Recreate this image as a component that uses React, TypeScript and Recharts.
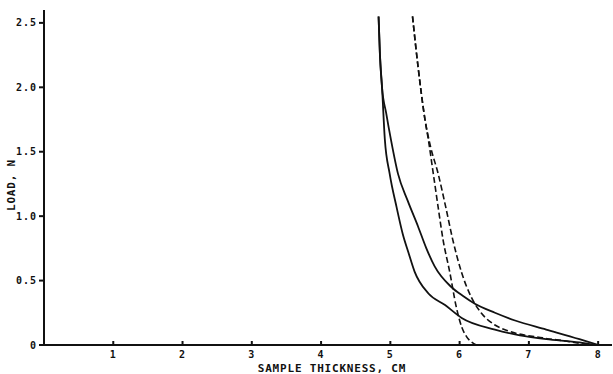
import React from 'react';
import { LineChart, Line, XAxis, YAxis } from 'recharts';

const xTicks = [1, 2, 3, 4, 5, 6, 7, 8];
const yTicks = [0, 0.5, 1.0, 1.5, 2.0, 2.5];

// solid curves
const solidInner = [
  { x: 4.83, y: 2.55 }, { x: 4.85, y: 2.25 }, { x: 4.88, y: 2.0 }, { x: 4.92, y: 1.6 },
  { x: 4.99, y: 1.33 }, { x: 5.09, y: 1.07 }, { x: 5.18, y: 0.86 }, { x: 5.26, y: 0.72 },
  { x: 5.35, y: 0.57 }, { x: 5.55, y: 0.4 }, { x: 5.79, y: 0.31 }, { x: 6.03, y: 0.21 },
  { x: 6.51, y: 0.12 }, { x: 6.87, y: 0.075 }, { x: 7.25, y: 0.045 }, { x: 7.73, y: 0.02 }, { x: 7.95, y: 0 },
];
const solidOuter = [
  { x: 4.83, y: 2.55 }, { x: 4.85, y: 2.25 }, { x: 4.88, y: 2.0 }, { x: 4.94, y: 1.8 },
  { x: 5.01, y: 1.59 }, { x: 5.11, y: 1.33 }, { x: 5.25, y: 1.12 }, { x: 5.4, y: 0.92 },
  { x: 5.52, y: 0.75 }, { x: 5.64, y: 0.61 }, { x: 5.88, y: 0.45 }, { x: 6.05, y: 0.38 },
  { x: 6.22, y: 0.32 }, { x: 6.51, y: 0.25 }, { x: 6.8, y: 0.19 }, { x: 7.25, y: 0.12 },
  { x: 7.73, y: 0.045 }, { x: 8.0, y: 0 },
];
// dashed curves
const dashedInner = [
  { x: 5.32, y: 2.55 }, { x: 5.4, y: 2.16 }, { x: 5.5, y: 1.75 }, { x: 5.55, y: 1.59 },
  { x: 5.62, y: 1.33 }, { x: 5.69, y: 1.07 }, { x: 5.76, y: 0.82 }, { x: 5.86, y: 0.56 },
  { x: 5.95, y: 0.3 }, { x: 6.03, y: 0.14 }, { x: 6.1, y: 0.065 }, { x: 6.18, y: 0.02 }, { x: 6.24, y: 0 },
];
const dashedOuter = [
  { x: 5.32, y: 2.55 }, { x: 5.4, y: 2.16 }, { x: 5.5, y: 1.75 }, { x: 5.58, y: 1.54 },
  { x: 5.69, y: 1.33 }, { x: 5.8, y: 1.07 }, { x: 5.9, y: 0.82 }, { x: 6.03, y: 0.56 },
  { x: 6.17, y: 0.37 }, { x: 6.31, y: 0.25 }, { x: 6.51, y: 0.155 }, { x: 6.7, y: 0.11 },
  { x: 7.2, y: 0.055 }, { x: 7.6, y: 0.025 }, { x: 7.85, y: 0 },
];

const font = { fontFamily: 'DejaVu Sans Mono', fontWeight: 'bold', fontSize: 10, fill: '#111', letterSpacing: 1 };
const titleFont = { ...font, fontSize: 11, letterSpacing: 0.8 };

const YTitle = () => (
  <text x={15} y={185} transform="rotate(-90 15 185)" textAnchor="middle" style={titleFont}>
    LOAD, N
  </text>
);

export default function App() {
  return (
    <div style={{ position: 'absolute', left: 0, top: 0, background: '#fff' }}>
      <LineChart width={613} height={374} margin={{ top: 10, right: 1, bottom: 0, left: 0 }}>
        <XAxis
          type="number"
          dataKey="x"
          domain={[0, 8.2]}
          ticks={xTicks}
          tick={font}
          stroke="#111"
          strokeWidth={2}
          tickSize={-4}
          tickMargin={10}
          height={29}
          label={{ value: 'SAMPLE THICKNESS, CM', position: 'insideBottom', offset: 2, dx: 4, style: titleFont }}
        />
        <YAxis
          type="number"
          dataKey="y"
          domain={[0, 2.6]}
          ticks={yTicks}
          tickFormatter={(v: number) => (v === 0 ? '0' : v.toFixed(1))}
          tick={font}
          width={44}
          stroke="#111"
          strokeWidth={2}
          tickSize={5}
          label={<YTitle />}
        />
        <Line data={solidInner} dataKey="y" type="monotone" stroke="#111" strokeWidth={1.8} dot={false} isAnimationActive={false} />
        <Line data={solidOuter} dataKey="y" type="monotone" stroke="#111" strokeWidth={1.8} dot={false} isAnimationActive={false} />
        <Line data={dashedInner} dataKey="y" type="monotone" stroke="#111" strokeWidth={1.6} strokeDasharray="6 3" dot={false} isAnimationActive={false} />
        <Line data={dashedOuter} dataKey="y" type="monotone" stroke="#111" strokeWidth={1.6} strokeDasharray="6 3" dot={false} isAnimationActive={false} />
      </LineChart>
    </div>
  );
}
